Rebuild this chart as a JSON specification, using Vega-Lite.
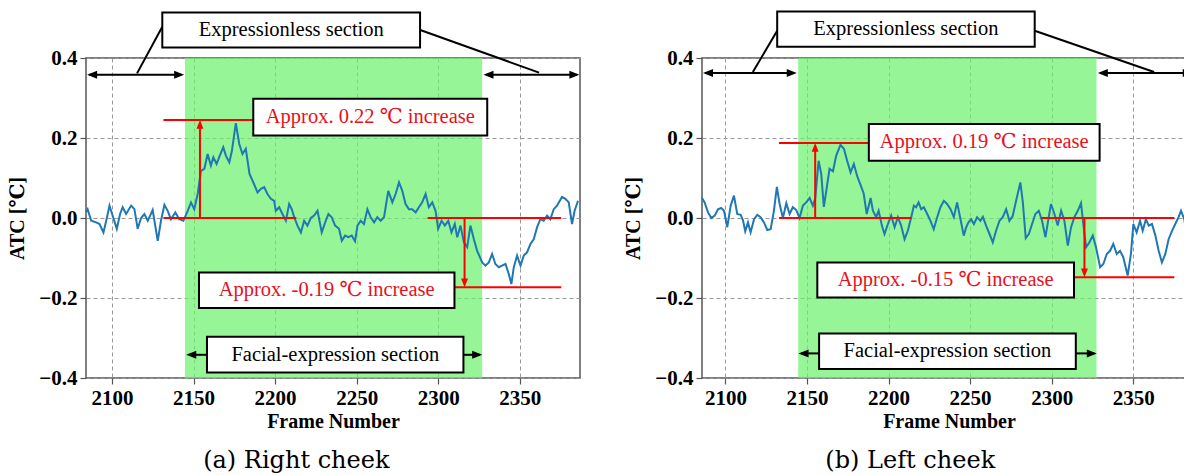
{
  "$schema": "https://vega.github.io/schema/vega-lite/v6.json",
  "padding": {"left": 7, "top": 9, "right": 0, "bottom": 0},
  "background": "white",
  "bounds": "flush",
  "spacing": 122,
  "config": {
    "font": "Liberation Serif",
    "view": {"stroke": "#555", "strokeWidth": 1.5},
    "axis": {
      "labelFont": "Liberation Serif", "labelFontWeight": "bold", "labelFontSize": 21, "labelColor": "#000",
      "titleFont": "Liberation Serif, DejaVu Serif", "titleFontWeight": "bold", "titleFontSize": 20, "titleColor": "#000",
      "domain": false, "tickColor": "#555", "tickSize": 6, "tickWidth": 1.2,
      "grid": true, "gridColor": "#999", "gridDash": [4, 3], "gridWidth": 1, "labelPadding": 3
    },
    "axisX": {"titlePadding": 3, "labelFlush": false},
    "axisY": {"titlePadding": 11}
  },
  "datasets": {
    "greenA": [{"f": 2144.7, "f2": 2327, "v": -0.4, "v2": 0.4}],
    "greenB": [{"f": 2144.6, "f2": 2327.5, "v": -0.4, "v2": 0.4}],
    "seriesA": [
      {"f":2084,"v":0.015},{"f":2085,"v":0.022},{"f":2087.2,"v":-0.007},{"f":2090.2,"v":-0.011},{"f":2092.3,"v":-0.015},{"f":2094.7,"v":-0.036},{"f":2096.8,"v":0.0},{"f":2098.4,"v":0.031},{"f":2100.8,"v":0.0},{"f":2102.9,"v":-0.027},{"f":2104.9,"v":0.01},{"f":2106.5,"v":0.027},{"f":2108.6,"v":0.01},{"f":2111.7,"v":0.031},{"f":2113.7,"v":0.022},{"f":2115.7,"v":-0.027},{"f":2117.8,"v":0.0},{"f":2119.8,"v":0.01},{"f":2121.9,"v":-0.007},{"f":2124.9,"v":0.02},{"f":2128.0,"v":-0.057},{"f":2130.0,"v":-0.007},{"f":2132.1,"v":0.033},{"f":2134.1,"v":0.018},{"f":2136.1,"v":-0.003},{"f":2138.8,"v":0.014},{"f":2141.2,"v":-0.003},{"f":2143.7,"v":-0.007},{"f":2146.4,"v":0.018},{"f":2148.4,"v":0.039},{"f":2150.4,"v":0.022},{"f":2152.5,"v":0.06},{"f":2154.5,"v":0.118},{"f":2156.6,"v":0.123},{"f":2158.6,"v":0.16},{"f":2160.6,"v":0.131},{"f":2162.1,"v":0.152},{"f":2164.1,"v":0.135},{"f":2165.7,"v":0.152},{"f":2168.2,"v":0.177},{"f":2169.8,"v":0.156},{"f":2171.9,"v":0.139},{"f":2173.5,"v":0.168},{"f":2175.9,"v":0.237},{"f":2178.0,"v":0.185},{"f":2180,"v":0.16},{"f":2182,"v":0.173},{"f":2184.3,"v":0.11},{"f":2186.5,"v":0.09},{"f":2189.2,"v":0.064},{"f":2191.3,"v":0.073},{"f":2193.3,"v":0.077},{"f":2195.3,"v":0.06},{"f":2197.4,"v":0.048},{"f":2199.4,"v":0.043},{"f":2200.4,"v":0.018},{"f":2202.5,"v":0.027},{"f":2204.5,"v":0.01},{"f":2206.6,"v":-0.007},{"f":2208.6,"v":0.035},{"f":2210.2,"v":0.022},{"f":2211.7,"v":0.002},{"f":2213.7,"v":-0.019},{"f":2215.8,"v":-0.036},{"f":2217.8,"v":-0.007},{"f":2219.8,"v":-0.019},{"f":2221.9,"v":0.0},{"f":2223.9,"v":0.006},{"f":2226.0,"v":0.018},{"f":2228.6,"v":-0.036},{"f":2230.7,"v":-0.011},{"f":2232.7,"v":0.01},{"f":2234.7,"v":0.002},{"f":2236.8,"v":-0.019},{"f":2239.2,"v":-0.027},{"f":2240.9,"v":-0.057},{"f":2242.9,"v":-0.044},{"f":2244.9,"v":-0.048},{"f":2247.0,"v":-0.044},{"f":2249.0,"v":-0.058},{"f":2250.5,"v":-0.019},{"f":2252.5,"v":-0.007},{"f":2254.5,"v":-0.015},{"f":2256.6,"v":0.022},{"f":2258.6,"v":0.002},{"f":2260.7,"v":-0.011},{"f":2262.7,"v":0.002},{"f":2264.7,"v":-0.007},{"f":2266.8,"v":0.002},{"f":2269.4,"v":0.068},{"f":2271.9,"v":0.039},{"f":2273.9,"v":0.06},{"f":2276.0,"v":0.089},{"f":2278.0,"v":0.068},{"f":2280.0,"v":0.035},{"f":2282.1,"v":0.022},{"f":2284.1,"v":0.022},{"f":2286.2,"v":0.014},{"f":2288.2,"v":0.027},{"f":2290.2,"v":0.039},{"f":2292.3,"v":0.06},{"f":2294.3,"v":0.027},{"f":2296.4,"v":0.039},{"f":2298.4,"v":0.018},{"f":2300.0,"v":-0.027},{"f":2302.1,"v":-0.007},{"f":2304.1,"v":-0.019},{"f":2306.2,"v":-0.007},{"f":2308.2,"v":-0.036},{"f":2310.2,"v":-0.015},{"f":2311.7,"v":-0.048},{"f":2313.7,"v":-0.019},{"f":2315.8,"v":-0.061},{"f":2317.8,"v":-0.073},{"f":2319.8,"v":-0.019},{"f":2321.9,"v":-0.053},{"f":2323.9,"v":-0.082},{"f":2327.0,"v":-0.111},{"f":2329.0,"v":-0.119},{"f":2331.1,"v":-0.111},{"f":2333.1,"v":-0.09},{"f":2335.1,"v":-0.115},{"f":2337.2,"v":-0.123},{"f":2339.2,"v":-0.119},{"f":2341.3,"v":-0.115},{"f":2343.3,"v":-0.14},{"f":2344.9,"v":-0.165},{"f":2346.4,"v":-0.123},{"f":2348.4,"v":-0.094},{"f":2350.5,"v":-0.119},{"f":2352.5,"v":-0.094},{"f":2354.5,"v":-0.086},{"f":2356.6,"v":-0.065},{"f":2358.6,"v":-0.053},{"f":2360.7,"v":-0.023},{"f":2362.7,"v":-0.003},{"f":2364.7,"v":-0.007},{"f":2366.8,"v":0.006},{"f":2368.8,"v":-0.003},{"f":2370.9,"v":0.022},{"f":2372.9,"v":0.031},{"f":2376.0,"v":0.053},{"f":2378.0,"v":0.048},{"f":2380.1,"v":0.039},{"f":2382.1,"v":-0.015},{"f":2383.7,"v":0.018},{"f":2385.8,"v":0.043}
    ],
    "seriesB": [
      {"f":2085.6,"v":0.05},{"f":2087.2,"v":0.039},{"f":2089.3,"v":0.014},{"f":2091.3,"v":0.0},{"f":2093.4,"v":0.006},{"f":2095.4,"v":0.022},{"f":2097.4,"v":0.025},{"f":2099.1,"v":0.018},{"f":2101.1,"v":-0.023},{"f":2103.2,"v":0.031},{"f":2105.2,"v":0.056},{"f":2107.2,"v":0.01},{"f":2109.3,"v":0.008},{"f":2110.7,"v":-0.005},{"f":2112.1,"v":-0.033},{"f":2113.8,"v":-0.011},{"f":2115.4,"v":-0.036},{"f":2117.5,"v":-0.003},{"f":2119.5,"v":0.008},{"f":2121.5,"v":0.002},{"f":2123.6,"v":-0.011},{"f":2125.6,"v":-0.03},{"f":2127.7,"v":-0.028},{"f":2129.7,"v":0.018},{"f":2131.5,"v":0.078},{"f":2133.2,"v":0.035},{"f":2135.2,"v":0.0},{"f":2137.3,"v":0.037},{"f":2139.3,"v":0.01},{"f":2141.3,"v":0.027},{"f":2143.4,"v":0.02},{"f":2145.4,"v":0.0},{"f":2147.5,"v":0.031},{"f":2149.5,"v":0.039},{"f":2151.6,"v":0.05},{"f":2153.6,"v":0.031},{"f":2155.0,"v":0.048},{"f":2157.1,"v":0.143},{"f":2158.7,"v":0.11},{"f":2160.3,"v":0.028},{"f":2161.8,"v":0.068},{"f":2163.8,"v":0.123},{"f":2165.9,"v":0.117},{"f":2167.9,"v":0.156},{"f":2170.5,"v":0.183},{"f":2172.6,"v":0.173},{"f":2174.6,"v":0.143},{"f":2176.7,"v":0.114},{"f":2178.7,"v":0.135},{"f":2180.8,"v":0.104},{"f":2182.8,"v":0.083},{"f":2184.7,"v":0.062},{"f":2186.6,"v":0.01},{"f":2189.0,"v":0.05},{"f":2190.4,"v":0.018},{"f":2192.4,"v":0.002},{"f":2193.9,"v":0.018},{"f":2195.9,"v":-0.019},{"f":2197.5,"v":-0.04},{"f":2199.6,"v":-0.015},{"f":2201.6,"v":0.006},{"f":2203.7,"v":-0.023},{"f":2205.7,"v":0.002},{"f":2207.7,"v":-0.019},{"f":2209.8,"v":-0.053},{"f":2211.8,"v":-0.032},{"f":2213.9,"v":0.002},{"f":2215.5,"v":0.031},{"f":2216.9,"v":0.027},{"f":2218.4,"v":0.039},{"f":2220.0,"v":0.022},{"f":2221.6,"v":0.027},{"f":2223.7,"v":0.01},{"f":2225.7,"v":-0.007},{"f":2227.7,"v":-0.028},{"f":2229.8,"v":0.002},{"f":2231.8,"v":0.027},{"f":2233.9,"v":0.043},{"f":2235.9,"v":0.035},{"f":2238.0,"v":0.022},{"f":2240.0,"v":0.002},{"f":2242.0,"v":0.039},{"f":2244.1,"v":-0.003},{"f":2246.1,"v":-0.044},{"f":2247.6,"v":-0.023},{"f":2249.0,"v":-0.011},{"f":2250.6,"v":-0.003},{"f":2252.3,"v":-0.015},{"f":2254.3,"v":0.002},{"f":2256.3,"v":-0.007},{"f":2257.8,"v":0.003},{"f":2259.8,"v":-0.019},{"f":2261.9,"v":-0.04},{"f":2263.9,"v":-0.061},{"f":2265.9,"v":-0.032},{"f":2268.0,"v":-0.007},{"f":2270.0,"v":0.002},{"f":2272.1,"v":0.022},{"f":2274.1,"v":-0.007},{"f":2276.1,"v":0.005},{"f":2278.2,"v":0.043},{"f":2280.8,"v":0.089},{"f":2282.3,"v":0.04},{"f":2284.1,"v":-0.05},{"f":2286.0,"v":-0.04},{"f":2288.0,"v":-0.015},{"f":2290.0,"v":0.01},{"f":2292.1,"v":0.018},{"f":2294.1,"v":-0.007},{"f":2296.2,"v":-0.048},{"f":2298.2,"v":0.002},{"f":2299.6,"v":0.035},{"f":2301.7,"v":0.01},{"f":2303.7,"v":-0.019},{"f":2305.8,"v":0.018},{"f":2307.8,"v":-0.007},{"f":2309.9,"v":-0.069},{"f":2311.9,"v":-0.023},{"f":2313.9,"v":0.002},{"f":2316.0,"v":0.018},{"f":2318.0,"v":0.037},{"f":2319.4,"v":-0.015},{"f":2321.1,"v":-0.073},{"f":2323.1,"v":-0.061},{"f":2325.2,"v":-0.044},{"f":2327.2,"v":-0.073},{"f":2329.7,"v":-0.123},{"f":2331.7,"v":-0.115},{"f":2333.8,"v":-0.09},{"f":2335.8,"v":-0.082},{"f":2337.8,"v":-0.065},{"f":2339.9,"v":-0.09},{"f":2341.9,"v":-0.082},{"f":2343.9,"v":-0.098},{"f":2346.6,"v":-0.144},{"f":2348.6,"v":-0.09},{"f":2350.1,"v":-0.015},{"f":2352.1,"v":-0.036},{"f":2354.2,"v":-0.007},{"f":2355.8,"v":-0.032},{"f":2357.8,"v":-0.003},{"f":2359.5,"v":-0.019},{"f":2361.5,"v":-0.015},{"f":2363.6,"v":-0.044},{"f":2365.6,"v":-0.082},{"f":2367.6,"v":-0.111},{"f":2369.7,"v":-0.09},{"f":2371.7,"v":-0.053},{"f":2373.8,"v":-0.032},{"f":2375.8,"v":-0.015},{"f":2377.8,"v":0.002},{"f":2379.3,"v":0.018},{"f":2381.3,"v":-0.003},{"f":2382.3,"v":-0.028},{"f":2384,"v":0.0},{"f":2386,"v":0.02}
    ],
    "segRedA": [
      {"f":2131.5,"v":0.245,"f2":2187,"v2":0.245},
      {"f":2153.9,"v":0,"f2":2153.9,"v2":0.236},
      {"f":2131.5,"v":0,"f2":2213,"v2":0},
      {"f":2293.5,"v":0,"f2":2375.5,"v2":0},
      {"f":2316.2,"v":0,"f2":2316.2,"v2":-0.164},
      {"f":2310,"v":-0.173,"f2":2375.5,"v2":-0.173}
    ],
    "segRedB": [
      {"f":2132.8,"v":0.1875,"f2":2188,"v2":0.1875},
      {"f":2155,"v":0,"f2":2155,"v2":0.179},
      {"f":2132.8,"v":0,"f2":2213.9,"v2":0},
      {"f":2293.5,"v":0,"f2":2375.2,"v2":0},
      {"f":2320.1,"v":0,"f2":2320.1,"v2":-0.139},
      {"f":2313,"v":-0.148,"f2":2375.2,"v2":-0.148}
    ],
    "headRedA": [{"f":2153.9,"v":0.245,"d":"up"},{"f":2316.2,"v":-0.173,"d":"down"}],
    "headRedB": [{"f":2155,"v":0.1875,"d":"up"},{"f":2320.1,"v":-0.148,"d":"down"}],
    "segBlackA": [
      {"f":2086,"v":0.358,"f2":2142.5,"v2":0.358},
      {"f":2329.5,"v":0.358,"f2":2385,"v2":0.358},
      {"f":2130.8,"v":0.478,"f2":2115.3,"v2":0.3616},
      {"f":2289,"v":0.47,"f2":2361.9,"v2":0.3635},
      {"f":2147,"v":-0.342,"f2":2158.2,"v2":-0.342},
      {"f":2315.5,"v":-0.342,"f2":2325.5,"v2":-0.342}
    ],
    "segBlackB": [
      {"f":2087.5,"v":0.3625,"f2":2142,"v2":0.3625},
      {"f":2330,"v":0.3625,"f2":2385,"v2":0.3625},
      {"f":2131.7,"v":0.468,"f2":2116.8,"v2":0.365},
      {"f":2289.6,"v":0.468,"f2":2362.8,"v2":0.365},
      {"f":2146.3,"v":-0.3385,"f2":2157.4,"v2":-0.3385},
      {"f":2314.8,"v":-0.3385,"f2":2326.2,"v2":-0.3385}
    ],
    "headBlackA": [
      {"f":2084.7,"v":0.358,"d":"left"},{"f":2144.2,"v":0.358,"d":"right"},
      {"f":2327.8,"v":0.358,"d":"left"},{"f":2386.6,"v":0.358,"d":"right"},
      {"f":2145.5,"v":-0.342,"d":"left"},{"f":2327,"v":-0.342,"d":"right"}
    ],
    "headBlackB": [
      {"f":2086.2,"v":0.3625,"d":"left"},{"f":2143.7,"v":0.3625,"d":"right"},
      {"f":2328.3,"v":0.3625,"d":"left"},{"f":2386.5,"v":0.3625,"d":"right"},
      {"f":2144.8,"v":-0.3385,"d":"left"},{"f":2327.7,"v":-0.3385,"d":"right"}
    ],
    "boxA": [
      {"f":2130.8,"f2":2288.9,"v":0.4265,"v2":0.514},
      {"f":2186.6,"f2":2330.1,"v":0.206,"v2":0.298},
      {"f":2153.3,"f2":2310,"v":-0.225,"v2":-0.136},
      {"f":2158.2,"f2":2315.5,"v":-0.386,"v2":-0.297}
    ],
    "boxB": [
      {"f":2131.7,"f2":2289.6,"v":0.428,"v2":0.516},
      {"f":2187.9,"f2":2329.4,"v":0.143,"v2":0.235},
      {"f":2156.3,"f2":2313.7,"v":-0.1985,"v2":-0.111},
      {"f":2157.4,"f2":2314.8,"v":-0.3775,"v2":-0.2885}
    ],
    "textA": [
      {"f":2209.9,"v":0.47,"t":"Expressionless section","k":"black"},
      {"f":2258.4,"v":0.252,"t":"Approx. 0.22 ℃ increase","k":"red"},
      {"f":2231.6,"v":-0.18,"t":"Approx. -0.19 ℃ increase","k":"red"},
      {"f":2236.9,"v":-0.342,"t":"Facial-expression section","k":"black"},
      {"f":2213,"v":-0.607,"t":"(a) Right cheek","k":"caption"}
    ],
    "textB": [
      {"f":2210.6,"v":0.472,"t":"Expressionless section","k":"black"},
      {"f":2258.6,"v":0.189,"t":"Approx. 0.19 ℃ increase","k":"red"},
      {"f":2235,"v":-0.155,"t":"Approx. -0.15 ℃ increase","k":"red"},
      {"f":2236.1,"v":-0.333,"t":"Facial-expression section","k":"black"},
      {"f":2213.3,"v":-0.607,"t":"(b) Left cheek","k":"caption"}
    ]
  },
  "hconcat": [
    {
      "width": 494, "height": 320,
      "encoding": {
        "x": {"field": "f", "type": "quantitative", "title": "Frame Number",
              "scale": {"domain": [2084, 2387], "nice": false, "zero": false},
              "axis": {"values": [2100, 2150, 2200, 2250, 2300, 2350], "format": "d"}},
        "y": {"field": "v", "type": "quantitative", "title": "ATC [℃]",
              "scale": {"domain": [-0.4, 0.4], "nice": false, "zero": false},
              "axis": {"values": [-0.4, -0.2, 0, 0.2, 0.4], "format": ".1f"}}
      },
      "layer": [
        {"data": {"name": "greenA"}, "mark": {"type": "rect", "color": "#69f169", "opacity": 0.7}, "encoding": {"x2": {"field": "f2"}, "y2": {"field": "v2"}}},
        {"data": {"name": "seriesA"}, "mark": {"type": "line", "color": "#1f77b4", "strokeWidth": 2}},
        {"data": {"name": "segRedA"}, "mark": {"type": "rule", "color": "#ff0000", "strokeWidth": 2, "clip": false}, "encoding": {"x2": {"field": "f2"}, "y2": {"field": "v2"}}},
        {"data": {"name": "headRedA"}, "mark": {"type": "point", "filled": true, "color": "#ff0000", "opacity": 1, "size": 300, "strokeWidth": 0, "clip": false},
         "encoding": {"shape": {"field": "d", "type": "nominal", "legend": null, "scale": {"domain": ["up", "down", "left", "right"], "range": ["M0,0L-0.4,1L0.4,1Z", "M0,0L-0.4,-1L0.4,-1Z", "M0,0L1,-0.4L1,0.4Z", "M0,0L-1,-0.4L-1,0.4Z"]}}}},
        {"data": {"name": "segBlackA"}, "mark": {"type": "rule", "color": "#000", "strokeWidth": 2, "clip": false}, "encoding": {"x2": {"field": "f2"}, "y2": {"field": "v2"}}},
        {"data": {"name": "headBlackA"}, "mark": {"type": "point", "filled": true, "color": "#000", "opacity": 1, "size": 400, "strokeWidth": 0, "clip": false},
         "encoding": {"shape": {"field": "d", "type": "nominal", "legend": null, "scale": {"domain": ["up", "down", "left", "right"], "range": ["M0,0L-0.4,1L0.4,1Z", "M0,0L-0.4,-1L0.4,-1Z", "M0,0L1,-0.4L1,0.4Z", "M0,0L-1,-0.4L-1,0.4Z"]}}}},
        {"data": {"name": "boxA"}, "mark": {"type": "rect", "fill": "#fff", "stroke": "#000", "strokeWidth": 2, "clip": false}, "encoding": {"x2": {"field": "f2"}, "y2": {"field": "v2"}}},
        {"data": {"name": "textA"}, "transform": [{"filter": "datum.k === 'black'"}], "mark": {"type": "text", "font": "Liberation Serif, DejaVu Serif", "fontSize": 20.5, "color": "#000", "align": "center", "baseline": "middle", "clip": false}, "encoding": {"text": {"field": "t"}}},
        {"data": {"name": "textA"}, "transform": [{"filter": "datum.k === 'red'"}], "mark": {"type": "text", "font": "Liberation Serif, DejaVu Serif", "fontSize": 20.5, "color": "#e8101c", "align": "center", "baseline": "middle", "clip": false}, "encoding": {"text": {"field": "t"}}},
        {"data": {"name": "textA"}, "transform": [{"filter": "datum.k === 'caption'"}], "mark": {"type": "text", "font": "DejaVu Serif", "fontSize": 24, "color": "#000", "align": "center", "baseline": "middle", "clip": false}, "encoding": {"text": {"field": "t"}}}
      ]
    },
    {
      "width": 494, "height": 320,
      "encoding": {
        "x": {"field": "f", "type": "quantitative", "title": "Frame Number",
              "scale": {"domain": [2085.6, 2388.5], "nice": false, "zero": false},
              "axis": {"values": [2100, 2150, 2200, 2250, 2300, 2350], "format": "d"}},
        "y": {"field": "v", "type": "quantitative", "title": "ATC [℃]",
              "scale": {"domain": [-0.4, 0.4], "nice": false, "zero": false},
              "axis": {"values": [-0.4, -0.2, 0, 0.2, 0.4], "format": ".1f"}}
      },
      "layer": [
        {"data": {"name": "greenB"}, "mark": {"type": "rect", "color": "#69f169", "opacity": 0.7}, "encoding": {"x2": {"field": "f2"}, "y2": {"field": "v2"}}},
        {"data": {"name": "seriesB"}, "mark": {"type": "line", "color": "#1f77b4", "strokeWidth": 2}},
        {"data": {"name": "segRedB"}, "mark": {"type": "rule", "color": "#ff0000", "strokeWidth": 2, "clip": false}, "encoding": {"x2": {"field": "f2"}, "y2": {"field": "v2"}}},
        {"data": {"name": "headRedB"}, "mark": {"type": "point", "filled": true, "color": "#ff0000", "opacity": 1, "size": 300, "strokeWidth": 0, "clip": false},
         "encoding": {"shape": {"field": "d", "type": "nominal", "legend": null, "scale": {"domain": ["up", "down", "left", "right"], "range": ["M0,0L-0.4,1L0.4,1Z", "M0,0L-0.4,-1L0.4,-1Z", "M0,0L1,-0.4L1,0.4Z", "M0,0L-1,-0.4L-1,0.4Z"]}}}},
        {"data": {"name": "segBlackB"}, "mark": {"type": "rule", "color": "#000", "strokeWidth": 2, "clip": false}, "encoding": {"x2": {"field": "f2"}, "y2": {"field": "v2"}}},
        {"data": {"name": "headBlackB"}, "mark": {"type": "point", "filled": true, "color": "#000", "opacity": 1, "size": 400, "strokeWidth": 0, "clip": false},
         "encoding": {"shape": {"field": "d", "type": "nominal", "legend": null, "scale": {"domain": ["up", "down", "left", "right"], "range": ["M0,0L-0.4,1L0.4,1Z", "M0,0L-0.4,-1L0.4,-1Z", "M0,0L1,-0.4L1,0.4Z", "M0,0L-1,-0.4L-1,0.4Z"]}}}},
        {"data": {"name": "boxB"}, "mark": {"type": "rect", "fill": "#fff", "stroke": "#000", "strokeWidth": 2, "clip": false}, "encoding": {"x2": {"field": "f2"}, "y2": {"field": "v2"}}},
        {"data": {"name": "textB"}, "transform": [{"filter": "datum.k === 'black'"}], "mark": {"type": "text", "font": "Liberation Serif, DejaVu Serif", "fontSize": 20.5, "color": "#000", "align": "center", "baseline": "middle", "clip": false}, "encoding": {"text": {"field": "t"}}},
        {"data": {"name": "textB"}, "transform": [{"filter": "datum.k === 'red'"}], "mark": {"type": "text", "font": "Liberation Serif, DejaVu Serif", "fontSize": 20.5, "color": "#e8101c", "align": "center", "baseline": "middle", "clip": false}, "encoding": {"text": {"field": "t"}}},
        {"data": {"name": "textB"}, "transform": [{"filter": "datum.k === 'caption'"}], "mark": {"type": "text", "font": "DejaVu Serif", "fontSize": 24, "color": "#000", "align": "center", "baseline": "middle", "clip": false}, "encoding": {"text": {"field": "t"}}}
      ]
    }
  ]
}
